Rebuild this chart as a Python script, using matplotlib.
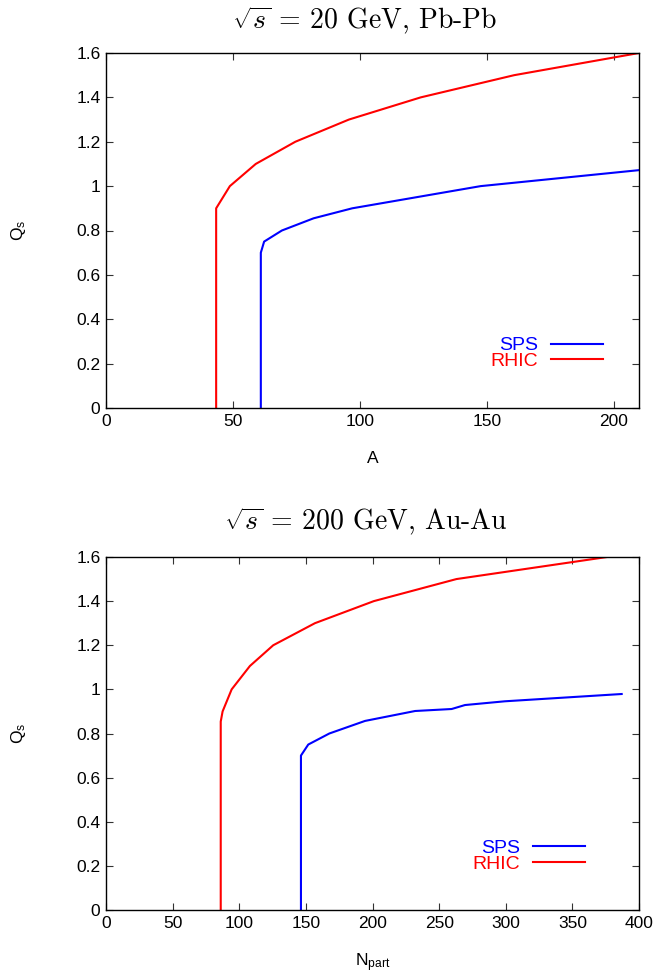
import matplotlib
matplotlib.use("Agg")
import matplotlib.pyplot as plt

plt.rcParams['font.family'] = ['Liberation Sans', 'DejaVu Sans']
plt.rcParams['mathtext.fontset'] = 'custom'
plt.rcParams['mathtext.rm'] = 'Liberation Sans'
plt.rcParams['mathtext.it'] = 'Liberation Sans:italic'

# ---- Data: top panel (sqrt(s)=20 GeV, Pb-Pb) ----
top_sps_A = [61.0, 61.0, 62.3, 69.3, 81.8, 97.0, 147.6, 210.0]
top_sps_Q = [0.0, 0.70, 0.75, 0.80, 0.855, 0.90, 1.00, 1.072]
top_rhic_A = [43.4, 43.4, 48.8, 59.0, 74.6, 95.7, 124.0, 160.8, 210.0]
top_rhic_Q = [0.0, 0.90, 1.00, 1.10, 1.20, 1.30, 1.40, 1.50, 1.60]

# ---- Data: bottom panel (sqrt(s)=200 GeV, Au-Au) ----
bot_sps_N = [146.3, 146.3, 151.8, 167.6, 194.4, 232.0, 259.4, 269.4, 299.4, 387.0]
bot_sps_Q = [0.0, 0.70, 0.75, 0.80, 0.857, 0.902, 0.911, 0.929, 0.946, 0.979]
bot_rhic_N = [86.1, 86.1, 87.5, 94.3, 108.0, 125.5, 156.8, 201.0, 263.0, 376.0]
bot_rhic_Q = [0.0, 0.854, 0.90, 1.00, 1.106, 1.20, 1.30, 1.40, 1.50, 1.60]

y_ticks = [0, 0.2, 0.4, 0.6, 0.8, 1.0, 1.2, 1.4, 1.6]
y_ticklabels = ['0', '0.2', '0.4', '0.6', '0.8', '1', '1.2', '1.4', '1.6']
top_xticks = [0, 50, 100, 150, 200]
top_xticklabels = ['0', '50', '100', '150', '200']
bot_xticks = [0, 50, 100, 150, 200, 250, 300, 350, 400]
bot_xticklabels = ['0', '50', '100', '150', '200', '250', '300', '350', '400']

series_labels = ['SPS', 'RHIC']
series_colors = ['#0000ff', '#ff0000']
titles = [r'$\sqrt{s}$ = 20 GeV, Pb-Pb', r'$\sqrt{s}$ = 200 GeV, Au-Au']

W, H = 655, 977
fig = plt.figure(figsize=(W / 100, H / 100), dpi=100)

ax1 = fig.add_axes([106 / W, 1 - 408 / H, 533 / W, 355 / H])
ax2 = fig.add_axes([106 / W, 1 - 910 / H, 533 / W, 353 / H])

FS = 12.5
LFS = 14

def style(ax, xticks, xtl, xlim, xlabel, xl_y):
    ax.set_xlim(*xlim)
    ax.set_ylim(0, 1.6)
    ax.set_xticks(xticks)
    ax.set_xticklabels(xtl)
    ax.set_yticks(y_ticks)
    ax.set_yticklabels(y_ticklabels)
    ax.tick_params(direction='in', length=5, width=0.8, top=True, right=True,
                   labelsize=FS, pad=4, color='#333333')
    for s in ax.spines.values():
        s.set_linewidth(1.0)
    ax.set_xlabel(xlabel, fontsize=FS)
    ax.set_ylabel(r'Q$_\mathrm{s}$', fontsize=FS)
    ax.xaxis.set_label_coords(0.5, xl_y)
    ax.yaxis.set_label_coords(-0.146, 0.5)

ax1.plot(top_sps_A, top_sps_Q, color=series_colors[0], lw=1.5, label=series_labels[0])
ax1.plot(top_rhic_A, top_rhic_Q, color=series_colors[1], lw=1.5, label=series_labels[1])
style(ax1, top_xticks, top_xticklabels, (0, 210), 'A', -0.121)

ax2.plot(bot_sps_N, bot_sps_Q, color=series_colors[0], lw=1.5, label=series_labels[0])
ax2.plot(bot_rhic_N, bot_rhic_Q, color=series_colors[1], lw=1.5, label=series_labels[1])
style(ax2, bot_xticks, bot_xticklabels, (0, 400), r'N$_\mathrm{part}$', -0.116)

for ax, anchor in [(ax1, (0.933, 0.108)), (ax2, (0.899, 0.106))]:
    leg = ax.legend(loc='lower right', bbox_to_anchor=anchor, frameon=False,
                    markerfirst=False, handlelength=2.7, handletextpad=0.65,
                    labelspacing=-0.12, borderpad=0, borderaxespad=0,
                    fontsize=LFS, labelcolor='linecolor')
    for t in leg.get_texts():
        t.set_ha('right')

fig.text(364.5 / W, 1 - 20 / H, titles[0], ha='center', va='center',
         fontsize=20, family='cmr10', math_fontfamily='cm')
fig.text(366 / W, 1 - 521 / H, titles[1], ha='center', va='center',
         fontsize=20, family='cmr10', math_fontfamily='cm')

fig.savefig('out.png', dpi=100)
